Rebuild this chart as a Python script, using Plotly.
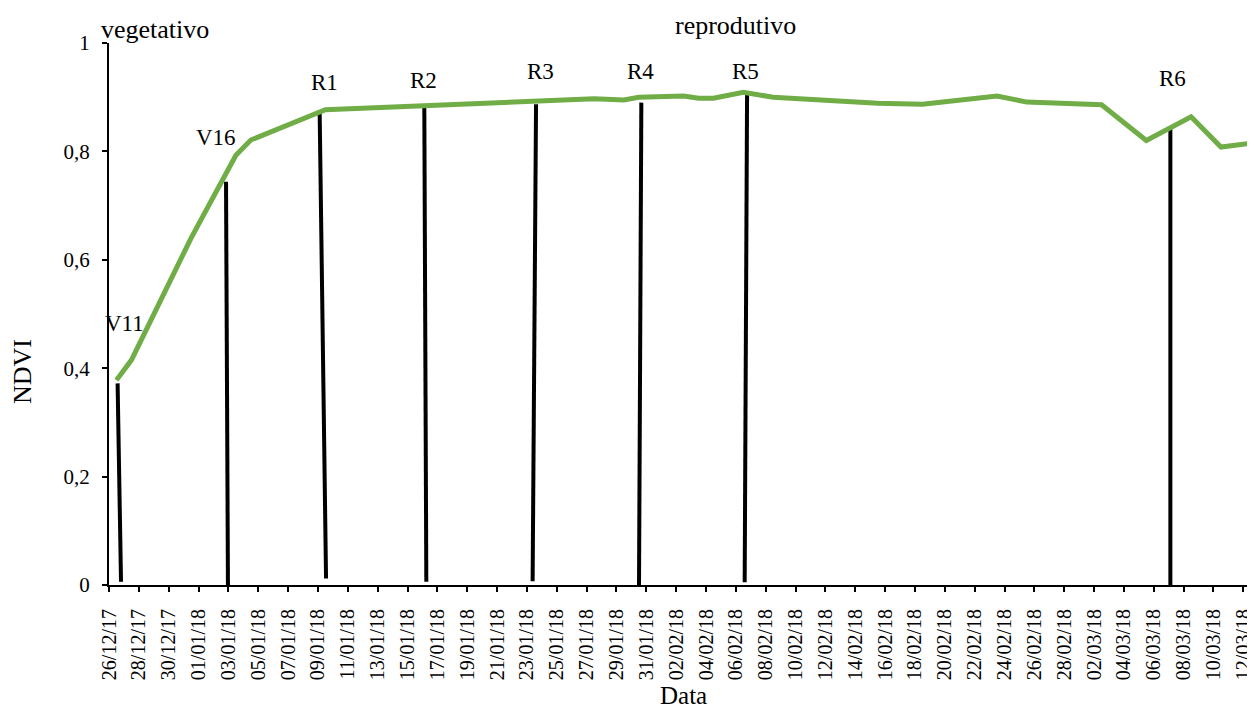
import pandas as pd
import plotly.graph_objects as go

# NDVI series
ndvi_dates = ['26/12/17', '27/12/17', '31/12/17', '03/01/18', '04/01/18',
              '09/01/18', '27/01/18', '29/01/18', '30/01/18', '02/02/18',
              '03/02/18', '04/02/18', '06/02/18', '08/02/18', '15/02/18',
              '18/02/18', '23/02/18', '25/02/18', '02/03/18', '05/03/18',
              '08/03/18', '10/03/18', '12/03/18']
ndvi_values = [0.378, 0.415, 0.640, 0.793, 0.821,
               0.877, 0.897, 0.895, 0.900, 0.902,
               0.898, 0.898, 0.909, 0.900, 0.889,
               0.887, 0.902, 0.891, 0.886, 0.820,
               0.864, 0.808, 0.815]

# phenological stage markers (hand-drawn bars in the original)
stage_names = ['V11', 'V16', 'R1', 'R2', 'R3', 'R4', 'R5', 'R6']
stage_top_x = ['2017-12-26 13:50', '2018-01-02 20:10', '2018-01-09 02:40',
               '2018-01-16 03:00', '2018-01-23 14:40', '2018-01-30 16:00',
               '2018-02-06 18:00', '2018-03-07 02:40']
stage_top_y = [0.372, 0.744, 0.876, 0.887, 0.887, 0.890, 0.906, 0.843]
stage_bot_x = ['2017-12-26 19:20', '2018-01-02 23:15', '2018-01-09 13:00',
               '2018-01-16 06:15', '2018-01-23 09:10', '2018-01-30 12:15',
               '2018-02-06 14:10', '2018-03-07 02:40']
stage_bot_y = [0.006, 0.0, 0.012, 0.006, 0.007, 0.0, 0.005, 0.0]
stage_label_x = ['2017-12-27 00:30', '2018-01-02 04:30', '2018-01-09 11:00',
                 '2018-01-16 01:30', '2018-01-23 21:30', '2018-01-30 14:30',
                 '2018-02-06 15:10', '2018-03-07 05:50']
stage_label_y = [0.483, 0.825, 0.928, 0.930, 0.9465, 0.948, 0.948, 0.934]

phase_names = ['vegetativo', 'reprodutivo']
phase_x = ['2017-12-29 02:30', '2018-02-05 23:00']
phase_y = [1.024, 1.033]

FONT = 'Liberation Serif'
PLOT_W = 1146
PLOT_H = 542

# Excel date axis puts each point in the middle of its day
x_ndvi = pd.to_datetime(ndvi_dates, format='%d/%m/%y') + pd.Timedelta(hours=12)

fig = go.Figure()

for i in range(len(stage_names)):
    fig.add_trace(go.Scatter(
        x=[stage_top_x[i], stage_bot_x[i]],
        y=[stage_top_y[i], stage_bot_y[i]],
        mode='lines',
        line=dict(color='black', width=4),
        showlegend=False,
        hoverinfo='skip'
    ))

fig.add_trace(go.Scatter(
    x=x_ndvi,
    y=ndvi_values,
    mode='lines',
    line=dict(color='#70AD47', width=5),
    showlegend=False
))

annotations = []
for name, x, y in zip(stage_names, stage_label_x, stage_label_y):
    annotations.append(dict(x=x, y=y, xref='x', yref='paper', text=name,
                            showarrow=False, xanchor='center', yanchor='middle',
                            font=dict(family=FONT, size=23, color='black')))
for name, x, y in zip(phase_names, phase_x, phase_y):
    annotations.append(dict(x=x, y=y, xref='x', yref='paper', text=name,
                            showarrow=False, xanchor='center', yanchor='middle',
                            font=dict(family=FONT, size=26, color='black')))

# axis titles
annotations.append(dict(x=(683 - 109) / PLOT_W, y=-(695 - 585) / PLOT_H,
                        xref='paper', yref='paper', text='Data',
                        showarrow=False, xanchor='center', yanchor='middle',
                        font=dict(family=FONT, size=25, color='black')))
annotations.append(dict(x=-(109 - 22) / PLOT_W, y=(585 - 372) / PLOT_H,
                        xref='paper', yref='paper', text='NDVI', textangle=-90,
                        showarrow=False, xanchor='center', yanchor='middle',
                        font=dict(family=FONT, size=26, color='black')))

# page body adds an 8px offset, so the figure is shrunk by that amount
fig.update_layout(
    width=1247, height=701,
    margin=dict(l=101, r=0, t=35, b=124),
    paper_bgcolor='white',
    plot_bgcolor='white',
    separators=',.',
    font=dict(family=FONT, size=20, color='black'),
    annotations=annotations,
    xaxis=dict(
        type='date',
        range=['2017-12-26', '2018-03-12 18:45'],
        tick0='2017-12-26',
        dtick=2 * 86400000,
        tickformat='%d/%m/%y',
        tickangle=-90,
        ticks='outside', ticklen=5, tickwidth=2, tickcolor='black',
        ticklabelstandoff=9,
        showline=True, linecolor='black', linewidth=2,
        showgrid=False, zeroline=False,
        tickfont=dict(family=FONT, size=20, color='black')
    ),
    yaxis=dict(
        range=[0, 1],
        tick0=0, dtick=0.2,
        ticks='outside', ticklen=5, tickwidth=2, tickcolor='black',
        ticklabelstandoff=8,
        showline=True, linecolor='black', linewidth=2,
        showgrid=False, zeroline=False,
        tickfont=dict(family=FONT, size=21, color='black')
    )
)

fig.write_html("out.html")
